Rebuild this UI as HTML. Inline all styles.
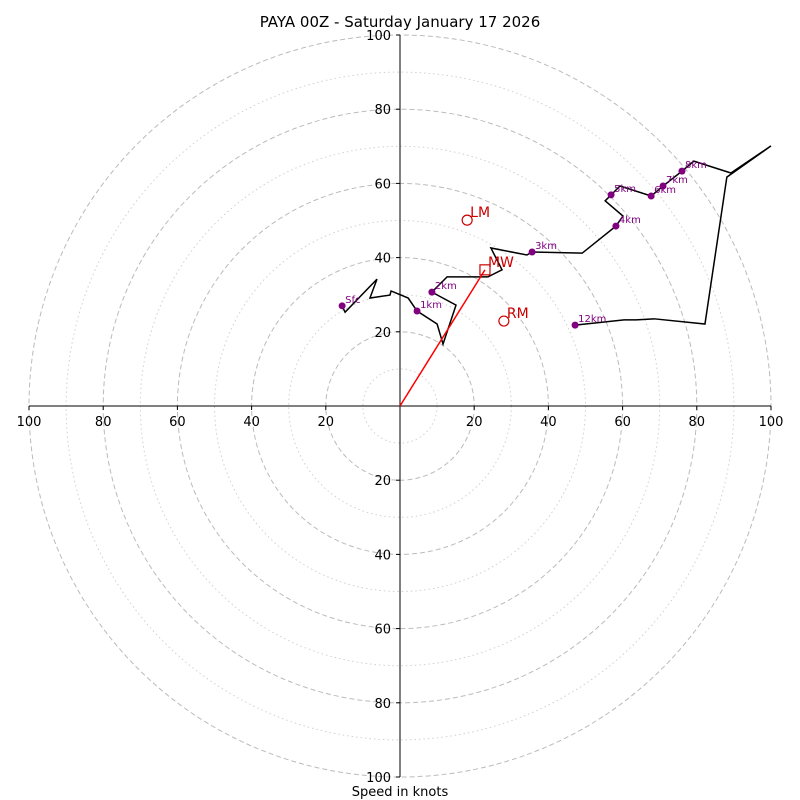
<!DOCTYPE html>
<html><head><meta charset="utf-8"><style>
html,body{margin:0;padding:0;background:#fff;}
svg{display:block;font-family:"DejaVu Sans","Liberation Sans",sans-serif;}
</style></head><body>
<svg id="c" width="800" height="800" viewBox="0 0 800 800">
<text x="400" y="27" text-anchor="middle" font-size="15">PAYA 00Z - Saturday January 17 2026</text>
<text x="400" y="796" text-anchor="middle" font-size="13">Speed in knots</text>
<g id="rings"></g><g id="axes"></g><g id="trace"></g><g id="marks"></g>
</svg>
<script>
const uKts=[-15.6,-14.8,-6.2,-8.1,-2.7,-2.4,2.2,4.6,10.0,11.6,15.1,8.6,12.7,23.7,27.5,24.5,34.2,35.6,49.1,58.2,60.1,55.3,56.9,59.3,67.7,70.9,76.0,79.2,89.2,100,88.1,82.2,68.5,63.6,60.4,47.2];
const vKts=[27.0,25.3,34.2,29.1,29.9,31.0,29.1,25.6,22.1,16.7,27.2,30.7,34.8,34.8,36.7,42.6,40.7,41.5,41.2,48.5,51.2,55.3,56.9,59.3,56.6,59.3,63.3,66.0,62.8,70.1,61.7,22.1,23.5,23.2,23.2,21.8];
const labelIdx=[0,7,11,17,19,22,24,25,26,35];
const labelTxt=["Sfc","1km","2km","3km","4km","5km","6km","7km","8km","12km"];
const tickVals=[20,40,60,80,100];
const storm={LM:[18.1,50.1],RM:[28.0,22.9],MW:[22.9,36.7]};
const NS='http://www.w3.org/2000/svg';
const cx=400,cy=406,k=3.71;
const X=u=>cx+u*k, Y=v=>cy-v*k;
function mk(p,t,a){const e=document.createElementNS(NS,t);for(const n in a)e.setAttribute(n,a[n]);document.getElementById(p).appendChild(e);return e;}
for(let r=10;r<=100;r+=10){
 const e=mk('rings','circle',{cx:cx,cy:cy,r:r*k,fill:'none',stroke:r%20?'#d0d0d0':'#bbb','stroke-width':1,'stroke-dasharray':r%20?'1.5,3':'5,3'});
 
 
}
let a=mk('axes','line',{x1:X(-100),y1:cy,x2:X(100),y2:cy,stroke:'#000'});


a=mk('axes','line',{x1:cx,y1:Y(100),x2:cx,y2:Y(-100),stroke:'#000'});


tickVals.forEach(t=>{
 [1,-1].forEach(s=>{
  mk('axes','line',{x1:X(s*t),y1:cy,x2:X(s*t),y2:cy+4,stroke:'#000'});
  let e=mk('axes','text',{x:X(s*t),y:cy+20,'text-anchor':'middle','font-size':13});
  e.textContent=t;
  
  
  mk('axes','line',{x1:cx-4,y1:Y(s*t),x2:cx,y2:Y(s*t),stroke:'#000'});
  e=mk('axes','text',{x:cx-9,y:Y(s*t)+5,'text-anchor':'end','font-size':13});
  e.textContent=t;
  
  
 });
});
const pl=mk('trace','polyline',{points:uKts.map((u,i)=>X(u)+','+Y(vKts[i])).join(' '),fill:'none',stroke:'#000','stroke-width':1.5});


labelIdx.forEach((i,j)=>{
 const d=mk('trace','circle',{cx:X(uKts[i]),cy:Y(vKts[i]),r:3.5,fill:'purple'});
 
 
 const t=mk('trace','text',{x:X(uKts[i])+3,y:Y(vKts[i])-3,'font-size':10,fill:'purple'});
 t.textContent=labelTxt[j];
 
 
});
let m=mk('marks','line',{x1:X(0),y1:Y(0),x2:X(storm.MW[0]),y2:Y(storm.MW[1]),stroke:'red','stroke-width':1.5});


['LM','RM'].forEach(n=>{
 let c=mk('marks','circle',{cx:X(storm[n][0]),cy:Y(storm[n][1]),r:5,fill:'none',stroke:'#c00','stroke-width':1.2});
 
 
 let t=mk('marks','text',{x:X(storm[n][0])+3,y:Y(storm[n][1])-3,'font-size':14,fill:'#c00'});
 t.textContent=n;
 
 
});
m=mk('marks','rect',{x:X(storm.MW[0])-5,y:Y(storm.MW[1])-5,width:10,height:10,fill:'none',stroke:'#c00','stroke-width':1.2});


m=mk('marks','text',{x:X(storm.MW[0])+3,y:Y(storm.MW[1])-3,'font-size':14,fill:'#c00'});
m.textContent='MW';


</script>
</body></html>
